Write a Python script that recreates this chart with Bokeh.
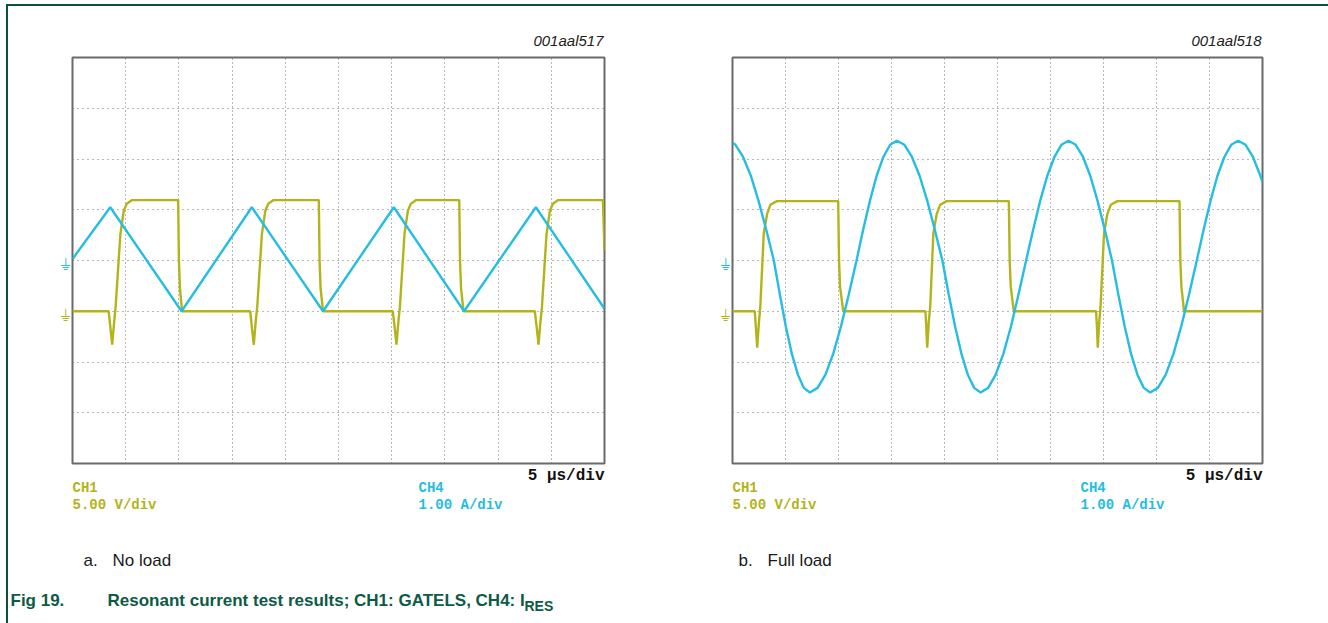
from bokeh.plotting import figure
from bokeh.models import Range1d, FixedTicker, Div, Spacer
from bokeh.layouts import column, row
from bokeh.core.properties import value
from bokeh.embed import file_html
from bokeh.resources import INLINE

# ---------------- data (time in µs, CH1 in V, CH4 in A) ----------------
X_DIV_TICKS = [5, 10, 15, 20, 25, 30, 35, 40, 45]      # 5 µs/div, 10 div
Y_DIV_TICKS = [-3, -2, -1, 0, 1, 2, 3]                  # 8 div

# (a) No load
a_ch1_t = [0, 3.4, 3.55, 3.73, 3.92, 4.05, 4.5, 4.82, 5.1, 5.6, 9.93, 10.0, 10.1, 10.3,
           16.7, 16.85, 17.04, 17.22, 17.36, 17.8, 18.12, 18.4, 18.9, 23.15, 23.22, 23.32, 23.55,
           30.1, 30.27, 30.45, 30.63, 30.77, 31.2, 31.52, 31.8, 32.3, 36.35, 36.42, 36.52, 36.75,
           43.45, 43.62, 43.8, 43.98, 44.12, 44.55, 44.87, 45.15, 45.65, 49.85, 50.0]
a_ch1_v = [0, 0, -1.5, -3.3, -1.0, 0.4, 7.6, 9.9, 10.6, 10.95, 10.95, 5.0, 2.2, 0,
           0, -1.5, -3.3, -1.0, 0.4, 7.6, 9.9, 10.6, 10.95, 10.95, 5.0, 2.2, 0,
           0, -1.5, -3.3, -1.0, 0.4, 7.6, 9.9, 10.6, 10.95, 10.95, 5.0, 2.2, 0,
           0, -1.5, -3.3, -1.0, 0.4, 7.6, 9.9, 10.6, 10.95, 10.95, 6.0]
a_ch4_t = [0, 3.55, 10.25, 16.85, 23.55, 30.2, 36.8, 43.55, 50.0]
a_ch4_i = [0.03, 1.05, -1.0, 1.05, -1.0, 1.05, -1.0, 1.05, -0.95]

# (b) Full load
b_ch1_t = [0, 2.1, 2.2, 2.33, 2.5, 2.62, 2.95, 3.27, 3.58, 4.2, 9.97, 10.05, 10.15, 10.45,
           18.2, 18.28, 18.37, 18.52, 18.65, 18.95, 19.27, 19.6, 20.2, 26.07, 26.15, 26.25, 26.54,
           34.3, 34.38, 34.46, 34.6, 34.72, 35.05, 35.37, 35.7, 36.3, 42.17, 42.25, 42.35, 42.6, 50.0]
b_ch1_v = [0, 0, -1.5, -3.6, -1.0, 0.4, 7.7, 9.6, 10.5, 10.85, 10.85, 5.0, 2.4, 0,
           0, -1.5, -3.6, -1.0, 0.4, 7.7, 9.6, 10.5, 10.85, 10.85, 5.0, 2.4, 0,
           0, -1.5, -3.6, -1.0, 0.4, 7.7, 9.6, 10.5, 10.85, 10.85, 5.0, 2.4, 0, 0]
b_ch4_t = [0, 0.28, 1.0, 1.73, 2.45, 3.18, 3.9, 4.47, 5.03, 5.6, 6.17, 6.73, 7.3,
           8.03, 8.77, 9.5, 10.23, 10.97, 11.7, 12.33, 12.97, 13.6, 14.23, 14.87, 15.5,
           16.22, 16.93, 17.65, 18.37, 19.08, 19.8, 20.4, 21.0, 21.6, 22.2, 22.8, 23.4,
           24.12, 24.83, 25.55, 26.27, 26.98, 27.7, 28.37, 29.03, 29.7, 30.37, 31.03, 31.7,
           32.38, 33.07, 33.75, 34.43, 35.12, 35.8, 36.4, 37.0, 37.6, 38.2, 38.8, 39.4,
           40.13, 40.87, 41.6, 42.33, 43.07, 43.8, 44.45, 45.1, 45.75, 46.4, 47.05, 47.7,
           48.4, 49.1, 49.8, 50.0]
b_ch4_i = [2.32, 2.28, 2.04, 1.67, 1.18, 0.61, 0, -0.67, -1.30, -1.84, -2.25, -2.51, -2.6,
           -2.51, -2.25, -1.84, -1.30, -0.67, 0, 0.61, 1.18, 1.67, 2.04, 2.28, 2.36,
           2.28, 2.04, 1.67, 1.18, 0.61, 0, -0.67, -1.30, -1.84, -2.25, -2.51, -2.6,
           -2.51, -2.25, -1.84, -1.30, -0.67, 0, 0.61, 1.18, 1.67, 2.04, 2.28, 2.36,
           2.28, 2.04, 1.67, 1.18, 0.61, 0, -0.67, -1.30, -1.84, -2.25, -2.51, -2.6,
           -2.51, -2.25, -1.84, -1.30, -0.67, 0, 0.61, 1.18, 1.67, 2.04, 2.28, 2.36,
           2.28, 2.04, 1.67, 1.55]

CODES = ["001aal517", "001aal518"]
SUBCAPS = [("a.", "No load"), ("b.", "Full load")]
CH1_LABEL, CH1_SCALE = "CH1", "5.00 V/div"
CH4_LABEL, CH4_SCALE = "CH4", "1.00 A/div"
TIMEBASE = "5 µs/div"
FIG_NO = "Fig 19."
FIG_TITLE = "Resonant current test results; CH1: GATELS, CH4: I"
FIG_SUB = "RES"

# ---------------- style ----------------
YEL = "#b3b31a"
CYAN = "#25bde2"
GREEN = "#0b4f3d"
CAPGREEN = "#0d5a46"
MONO = "Liberation Mono"
SANS = "Liberation Sans"


def blank(w, h, xr=None, yr=None, top=0, bottom=0):
    p = figure(width=w, height=h, title=None, output_backend="svg", toolbar_location=None,
               x_axis_location=None, y_axis_location=None,
               x_range=xr if xr is not None else Range1d(0, w),
               y_range=yr if yr is not None else Range1d(h, 0),
               min_border_left=0, min_border_right=0,
               min_border_top=top, min_border_bottom=bottom)
    p.grid.visible = False
    p.outline_line_color = None
    p.background_fill_color = "white"
    p.border_fill_color = "white"
    return p


def txt(p, x, y, s, color, size, font=MONO, style="bold", align="left", **kw):
    p.text(x=[x], y=[y], text=[s], text_color=color, text_font=value(font),
           text_font_size=value(size), text_font_style=style, text_align=align,
           text_baseline="middle", **kw)


def scope(fw, t1, v1, t4, i4):
    p = figure(width=fw + 4, height=410, title=None, x_range=Range1d(0, 50),
               y_range=Range1d(-4, 4), output_backend="svg", toolbar_location=None,
               x_axis_location=None, y_axis_location=None,
               min_border_left=2, min_border_right=2, min_border_top=2, min_border_bottom=2)
    p.extra_y_ranges = {"ch1": Range1d(-15, 25)}
    p.background_fill_color = "white"
    p.border_fill_color = "white"
    p.outline_line_color = "#6a6a6a"
    p.outline_line_width = 2
    p.xgrid.ticker = FixedTicker(ticks=X_DIV_TICKS)
    p.ygrid.ticker = FixedTicker(ticks=Y_DIV_TICKS)
    for g in (p.xgrid, p.ygrid):
        g.grid_line_color = "#707070"
        g.grid_line_width = 1
    p.xgrid.grid_line_dash = "1 3"
    p.ygrid.grid_line_dash = "1 4"
    p.line(t1, v1, color=YEL, line_width=2.4, y_range_name="ch1")
    p.line(t4, i4, color=CYAN, line_width=2.4)
    return p


def ground_fig(w, sc):
    g = blank(w, 410, yr=sc.y_range, top=2, bottom=2)
    g.extra_y_ranges = {"ch1": sc.extra_y_ranges["ch1"]}
    txt(g, w - 5, 0, "⏚", CYAN, "16px", font="DejaVu Sans", style="normal", align="center",
        y_offset=4)
    txt(g, w - 5, 0, "⏚", YEL, "16px", font="DejaVu Sans", style="normal", align="center",
        y_offset=4, y_range_name="ch1")
    return g


def half(total_w, gnd_w, fw, code, t1, v1, t4, i4, ch1_x, ch4_x, sub, sub_x):
    sc = scope(fw, t1, v1, t4, i4)
    gnd = ground_fig(gnd_w, sc)
    right_w = total_w - gnd_w - fw - 4
    head = blank(total_w, 49)
    txt(head, gnd_w + 2 + fw - 1, 34, code, "#222222", "15px", font=SANS, style="italic",
        align="right")
    foot = blank(total_w, 158)
    txt(foot, gnd_w + 2 + fw, 10, TIMEBASE, "#111111", "16px", align="right")
    txt(foot, ch1_x, 22, CH1_LABEL, YEL, "14px")
    txt(foot, ch1_x, 39, CH1_SCALE, YEL, "14px")
    txt(foot, ch4_x, 22, CH4_LABEL, CYAN, "14px")
    txt(foot, ch4_x, 39, CH4_SCALE, CYAN, "14px")
    txt(foot, sub_x, 95, sub[0], "#1a1a1a", "17px", font=SANS, style="normal")
    txt(foot, sub_x + 29, 95, sub[1], "#1a1a1a", "17px", font=SANS, style="normal")
    mid = row(gnd, sc, Spacer(width=right_w, height=410, margin=0))
    return column(head, mid, foot), foot


colA, footA = half(656, 62, 532, CODES[0], a_ch1_t, a_ch1_v, a_ch4_t, a_ch4_i, 64, 410,
                   SUBCAPS[0], 75)
colB, footB = half(664, 66, 530, CODES[1], b_ch1_t, b_ch1_v, b_ch4_t, b_ch4_i, 68, 416,
                   SUBCAPS[1], 74)

# figure caption
txt(footA, 2, 135, FIG_NO, CAPGREEN, "17px", font=SANS, style="bold")
txt(footA, 99, 135, FIG_TITLE, CAPGREEN, "17px", font=SANS, style="bold")
txt(footA, 516, 140, FIG_SUB, CAPGREEN, "14px", font=SANS, style="bold")

top_line = Div(text="", width=1322, height=2, margin=0,
               styles={"background-color": GREEN})
left_line = Div(text="", width=2, height=617, margin=0,
                styles={"background-color": GREEN})

root = column(
    Spacer(width=1328, height=4, margin=0),
    row(Spacer(width=6, height=2, margin=0), top_line),
    row(Spacer(width=6, height=617, margin=0), left_line, colA, colB),
)

open("out.html", "w").write(file_html(root, INLINE))
